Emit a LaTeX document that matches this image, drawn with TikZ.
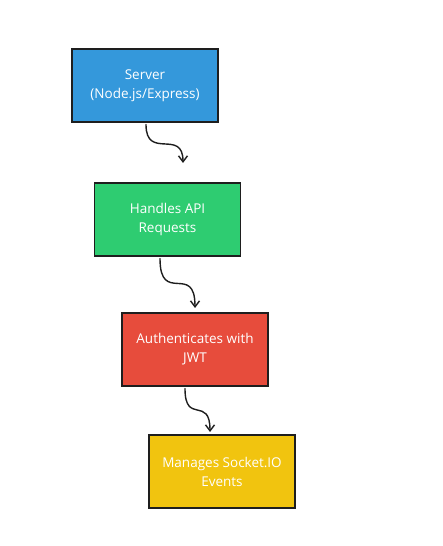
\documentclass[tikz,border=0pt]{standalone}
\usepackage{fontspec}
\setmainfont{Open Sans}
\usetikzlibrary{arrows.meta}
\definecolor{srvblue}{HTML}{3498DB}
\definecolor{apigreen}{HTML}{2ECC71}
\definecolor{authred}{HTML}{E74C3C}
\definecolor{sockyellow}{HTML}{F1C40F}
\definecolor{edge}{HTML}{1E1E1E}
\tikzset{
  stage/.style={draw=edge, line width=1.2pt, minimum width=146pt, minimum height=73pt,
    text=white, align=center, inner sep=0pt, font=\fontsize{13.5}{19}\selectfont},
  flow/.style={draw=edge, line width=1.4pt, line cap=round,
    -{Straight Barb[length=6pt,width=9pt,line width=1.4pt]}}
}
\begin{document}
\begin{tikzpicture}[x=1pt,y=1pt]
      \useasboundingbox (0,0) rectangle (442,546);
      \draw
        (145,460.5) node[stage, fill=srvblue] (server){Server\\(Node.js/Express)}
        (167.5,326.5) node[stage, fill=apigreen] (api){Handles API\\Requests}
        (195,196.5) node[stage, fill=authred] (auth){Authenticates with\\JWT}
        (222,74.5) node[stage, fill=sockyellow] (socket){Manages Socket.IO\\Events};
      \coordinate (t1) at (183,383);
      \coordinate (t2) at (195,238);
      \coordinate (t3) at (210,114);
      \begin{scope}[flow]
        \draw ([xshift=1pt,yshift=-2pt]server.south) .. controls +(0,-36) and +(0,35) .. (t1);
        \draw ([xshift=-7.5pt,yshift=-2pt]api.south) .. controls +(0,-47) and +(0,46) .. (t2);
        \draw ([xshift=-10pt,yshift=-2pt]auth.south) .. controls +(0,-37) and +(0,37) .. (t3);
      \end{scope}
    \end{tikzpicture}
\end{document}
